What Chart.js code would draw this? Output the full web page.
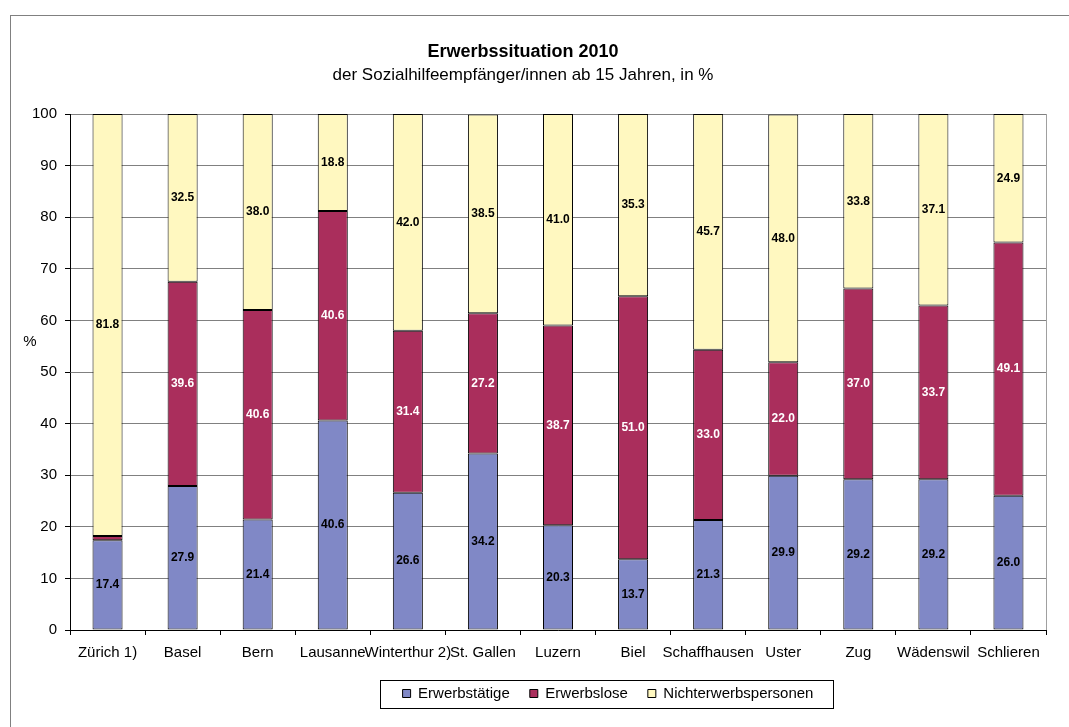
<!DOCTYPE html>
<html lang="de">
<head>
  <meta charset="UTF-8">
  <title>Erwerbssituation 2010</title>
  <script src="https://cdn.jsdelivr.net/npm/chart.js"></script>
  <style>
    body {
      margin: 0;
      background: #fff;
      overflow: hidden;
    }
    #wrap {
      position: relative;
      width: 1069px;
      height: 727px;
    }
  </style>
</head>
<body>
<div id="wrap"><canvas id="chart"></canvas></div>

<script>
  const categories = ['Zürich 1)', 'Basel', 'Bern', 'Lausanne', 'Winterthur 2)', 'St. Gallen', 'Luzern',
    'Biel', 'Schaffhausen', 'Uster', 'Zug', 'Wädenswil', 'Schlieren'];
  const erwerbstaetige = [17.4, 27.9, 21.4, 40.6, 26.6, 34.2, 20.3, 13.7, 21.3, 29.9, 29.2, 29.2, 26.0];
  const erwerbslose = [0.8, 39.6, 40.6, 40.6, 31.4, 27.2, 38.7, 51.0, 33.0, 22.0, 37.0, 33.7, 49.1];
  const nichterwerbspersonen = [81.8, 32.5, 38.0, 18.8, 42.0, 38.5, 41.0, 35.3, 45.7, 48.0, 33.8, 37.1, 24.9];

  const FONT = "'Liberation Sans', Arial, sans-serif";

  // outer frame, plot border, "%" label, boxed legend
  const decor = {
    id: 'decor',
    afterLayout(chart) {
      // the original frame is wider than the visible part, so its legend sits right of centre
      const lg = chart.legend;
      lg.left += 85;
      lg.right += 85;
    },
    beforeDraw(chart) {
      const ctx = chart.ctx;
      ctx.save();
      ctx.strokeStyle = '#808080';
      ctx.lineWidth = 1;
      ctx.strokeRect(10.5, 15.5, 1200, 900);
      ctx.restore();
    },
    afterDraw(chart) {
      const ctx = chart.ctx;
      const a = chart.chartArea;
      ctx.save();
      ctx.strokeStyle = '#a0a0a0';
      ctx.lineWidth = 1;
      ctx.beginPath();
      ctx.moveTo(Math.round(a.right) + 0.5, a.top);
      ctx.lineTo(Math.round(a.right) + 0.5, a.bottom);
      ctx.stroke();

      ctx.fillStyle = '#000';
      ctx.font = '15px ' + FONT;
      ctx.textAlign = 'center';
      ctx.textBaseline = 'middle';
      ctx.fillText('%', 30, 342);

      const boxes = chart.legend.legendHitBoxes;
      if (boxes && boxes.length) {
        const minX = Math.min(...boxes.map(b => b.left));
        const maxX = Math.max(...boxes.map(b => b.left + b.width));
        const cy = boxes[0].top + boxes[0].height / 2;
        ctx.strokeStyle = '#000';
        ctx.strokeRect(Math.round(minX - 23) + 0.5, Math.round(cy - 14) + 0.5, Math.round(maxX - minX + 42), 28);
      }
      ctx.restore();
    }
  };

  // value labels inside the bar segments
  const valueLabels = {
    id: 'valueLabels',
    afterDatasetsDraw(chart) {
      const ctx = chart.ctx;
      ctx.save();
      ctx.font = 'bold 12px ' + FONT;
      ctx.textAlign = 'center';
      ctx.textBaseline = 'middle';
      chart.data.datasets.forEach((ds, i) => {
        const meta = chart.getDatasetMeta(i);
        meta.data.forEach((bar, j) => {
          const v = ds.data[j];
          if (v < 3) return;
          ctx.fillStyle = i === 1 ? '#fff' : '#000';
          ctx.fillText(v.toFixed(1), bar.x, (bar.y + bar.base) / 2);
        });
      });
      ctx.restore();
    }
  };

  const ctx = document.getElementById('chart').getContext('2d');
  new Chart(ctx, {
    type: 'bar',
    data: {
      labels: categories,
      datasets: [
        { label: 'Erwerbstätige', data: erwerbstaetige, backgroundColor: '#8088c6' },
        { label: 'Erwerbslose', data: erwerbslose, backgroundColor: '#aa2e5c' },
        { label: 'Nichterwerbspersonen', data: nichterwerbspersonen, backgroundColor: '#fff8c0' }
      ].map(d => Object.assign(d, {
        borderColor: '#000',
        borderWidth: 1,
        borderSkipped: false,
        barPercentage: 0.4,
        categoryPercentage: 1
      }))
    },
    options: {
      responsive: true,
      maintainAspectRatio: false,
      animation: false,
      layout: { padding: { left: 0, right: 23, top: 0, bottom: 16 } },
      plugins: {
        title: {
          display: true,
          text: 'Erwerbssituation 2010',
          color: '#000',
          font: { family: FONT, size: 18, weight: 'bold' },
          padding: { top: 41, bottom: 1 }
        },
        subtitle: {
          display: true,
          text: 'der Sozialhilfeempfänger/innen ab 15 Jahren, in %',
          color: '#000',
          font: { family: FONT, size: 17 },
          padding: { top: 2, bottom: 28 }
        },
        legend: {
          position: 'bottom',
          labels: {
            color: '#000',
            font: { family: FONT, size: 15 },
            boxWidth: 8,
            boxHeight: 8,
            padding: 20
          }
        },
        tooltip: { enabled: false }
      },
      scales: {
        x: {
          stacked: true,
          offset: true,
          grid: {
            offset: true,
            drawOnChartArea: false,
            tickLength: 5,
            tickColor: '#000'
          },
          border: { color: '#000' },
          ticks: {
            color: '#000',
            font: { family: FONT, size: 15 },
            autoSkip: false,
            maxRotation: 0,
            minRotation: 0,
            padding: 9
          },
          afterFit(scale) { scale.height = 36; }
        },
        y: {
          stacked: true,
          min: 0,
          max: 100,
          grid: {
            color: '#808080',
            tickLength: 5,
            tickColor: '#000'
          },
          border: { color: '#000' },
          ticks: {
            stepSize: 10,
            color: '#000',
            font: { family: FONT, size: 15 },
            padding: 8
          },
          afterFit(scale) { scale.width = 70; }
        }
      }
    },
    plugins: [decor, valueLabels]
  });
</script>
</body>
</html>
